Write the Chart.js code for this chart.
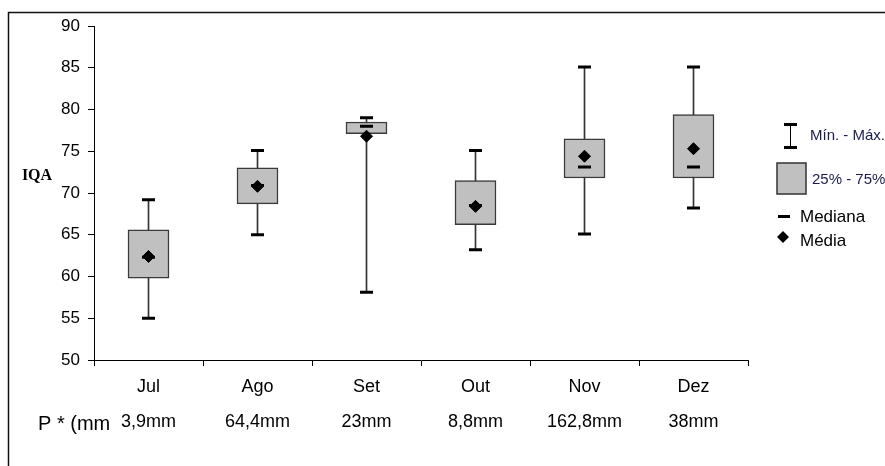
<!DOCTYPE html>
<html>
<head>
<meta charset="utf-8">
<script src="https://cdn.jsdelivr.net/npm/chart.js@4.4.1/dist/chart.umd.min.js"></script>
<style>
    html, body { margin: 0; padding: 0; background: #fff; }
    #wrap { position: relative; width: 885px; height: 466px; }
</style>
</head>
<body>
<div id="wrap"><canvas id="iqaChart"></canvas></div>
<script>
    const months = ['Jul', 'Ago', 'Set', 'Out', 'Nov', 'Dez'];
    const precip = ['3,9mm', '64,4mm', '23mm', '8,8mm', '162,8mm', '38mm'];

    const mins    = [55.0, 65.0, 58.1, 63.2, 65.1, 68.2];
    const q1s     = [59.8, 68.7, 77.1, 66.2, 71.8, 71.8];
    const medians = [62.3, 70.9, 78.0, 68.5, 73.1, 73.1];
    const q3s     = [65.6, 73.0, 78.5, 71.5, 76.5, 79.4];
    const maxs    = [69.2, 75.1, 79.0, 75.1, 85.1, 85.1];
    const means   = [62.4, 70.8, 76.8, 68.4, 74.4, 75.3];

    const yTicks = [50, 55, 60, 65, 70, 75, 80, 85, 90];

    Chart.defaults.font.family = '"Liberation Sans", Arial, sans-serif';
    Chart.defaults.color = '#000';

    const labels = months.map((m, i) => [m, precip[i]]);

    // frame, IQA label, P row caption and the legend
    const extras = {
        id: 'extras',
        beforeDraw(chart) {
            const c = chart.ctx;
            c.save();
            c.fillStyle = '#fff';
            c.fillRect(0, 0, chart.width, chart.height);
            c.strokeStyle = '#111';
            c.lineWidth = 1.5;
            c.beginPath();
            c.moveTo(8.5, chart.height);
            c.lineTo(8.5, 12.5);
            c.lineTo(chart.width, 12.5);
            c.stroke();
            c.restore();
        },
        afterDraw(chart) {
            const c = chart.ctx;
            const x = chart.scales.x;
            const y = chart.scales.y;
            c.save();

            c.fillStyle = '#000';
            c.font = 'bold 16px "Liberation Serif", "Times New Roman", serif';
            c.textAlign = 'center';
            c.textBaseline = 'middle';
            c.fillText('IQA', 37, y.getPixelForValue(72));

            c.font = '20px "Liberation Sans", Arial, sans-serif';
            c.textAlign = 'left';
            c.fillText('P * (mm', 38, x.top + 64);

            // legend
            const lx = chart.chartArea.right + 42;
            c.strokeStyle = '#000';
            c.lineWidth = 1;
            c.beginPath();
            c.moveTo(lx + 0.5, 124);
            c.lineTo(lx + 0.5, 147);
            c.stroke();
            c.fillRect(lx - 6, 123, 13, 3);
            c.fillRect(lx - 6, 146, 13, 3);

            c.fillStyle = '#c0c0c0';
            c.fillRect(lx - 13, 163, 29, 31);
            c.strokeStyle = '#333';
            c.lineWidth = 1.5;
            c.strokeRect(lx - 13, 163, 29, 31);

            c.fillStyle = '#000';
            c.fillRect(lx - 12, 215, 12, 3);

            c.beginPath();
            c.moveTo(lx - 7, 231);
            c.lineTo(lx - 1, 237);
            c.lineTo(lx - 7, 243);
            c.lineTo(lx - 13, 237);
            c.closePath();
            c.fill();

            c.fillStyle = '#1b1b4d';
            c.font = '15px "Liberation Sans Narrow", "Liberation Sans", sans-serif';
            c.fillText('Mín. - Máx.', lx + 20, 136);
            c.fillText('25% - 75%', lx + 22, 180);

            c.fillStyle = '#000';
            c.font = '17px "Liberation Sans", Arial, sans-serif';
            c.fillText('Mediana', lx + 10, 217);
            c.fillText('Média', lx + 10, 241);

            c.restore();
        }
    };

    const data = {
        labels: labels,
        datasets: [
            {
                type: 'line',
                label: 'Média',
                data: means,
                showLine: false,
                pointStyle: 'rectRot',
                pointRadius: 6,
                backgroundColor: '#000',
                borderColor: '#000',
                borderWidth: 1,
                order: 0
            },
            {
                type: 'line',
                label: 'Mediana',
                data: medians,
                showLine: false,
                pointStyle: 'line',
                pointRadius: 6.5,
                borderColor: '#000',
                borderWidth: 3,
                order: 1
            },
            {
                type: 'line',
                label: 'Mín.',
                data: mins,
                showLine: false,
                pointStyle: 'line',
                pointRadius: 6.5,
                borderColor: '#000',
                borderWidth: 3,
                order: 2
            },
            {
                type: 'line',
                label: 'Máx.',
                data: maxs,
                showLine: false,
                pointStyle: 'line',
                pointRadius: 6.5,
                borderColor: '#000',
                borderWidth: 3,
                order: 2
            },
            {
                label: '25% - 75%',
                data: q1s.map((v, i) => [v, q3s[i]]),
                backgroundColor: '#c0c0c0',
                borderColor: '#3a3a3a',
                borderWidth: 1.5,
                borderSkipped: false,
                barThickness: 41,
                grouped: false,
                order: 3
            },
            {
                label: 'Mín. - Máx.',
                data: mins.map((v, i) => [v, maxs[i]]),
                backgroundColor: '#333',
                barThickness: 1,
                grouped: false,
                order: 4
            }
        ]
    };

    const options = {
        responsive: true,
        maintainAspectRatio: false,
        animation: false,
        layout: {
            padding: { left: 0, right: 137, top: 26, bottom: 0 }
        },
        plugins: {
            legend: { display: false },
            tooltip: { enabled: false }
        },
        scales: {
            x: {
                offset: true,
                grid: {
                    offset: true,
                    drawOnChartArea: false,
                    color: '#000',
                    tickLength: 6
                },
                border: { color: '#000', width: 1 },
                ticks: {
                    color: '#000',
                    padding: 3,
                    maxRotation: 0,
                    font: { size: 18, lineHeight: 1.95 }
                },
                afterFit: scale => { scale.height = 106; }
            },
            y: {
                min: 50,
                max: 90,
                afterBuildTicks: scale => {
                    scale.ticks = yTicks.map(v => ({ value: v }));
                },
                grid: {
                    drawOnChartArea: false,
                    color: '#000',
                    tickLength: 6
                },
                border: { color: '#000', width: 1 },
                ticks: {
                    color: '#000',
                    padding: 8,
                    font: { size: 17 }
                },
                afterFit: scale => { scale.width = 94; }
            }
        }
    };

    new Chart(document.getElementById('iqaChart').getContext('2d'), {
        type: 'bar',
        data: data,
        options: options,
        plugins: [extras]
    });
</script>
</body>
</html>
